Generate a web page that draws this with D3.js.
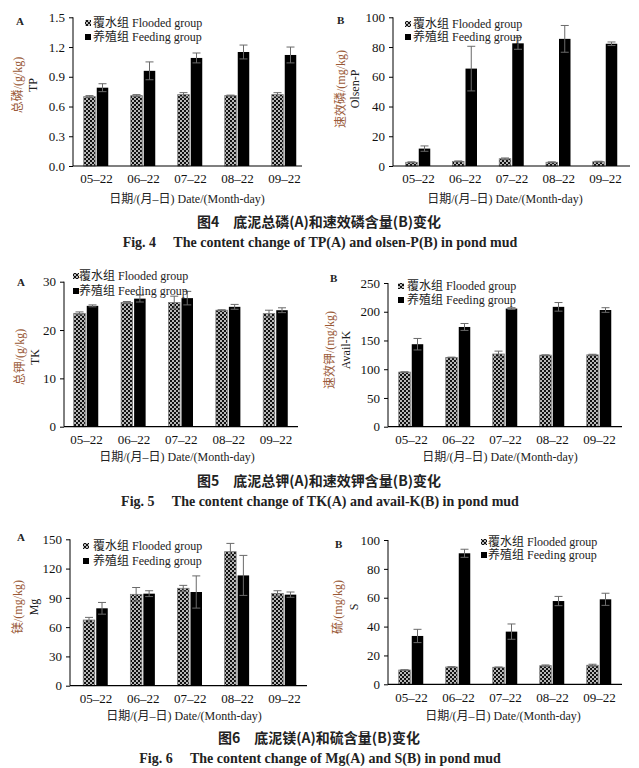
<!DOCTYPE html>
<html><head><meta charset="utf-8">
<script src="https://cdn.jsdelivr.net/npm/d3@7"></script>
<style>body{margin:0;background:#fff}svg{display:block}</style>
</head><body>
<script>
// ---- data ----
const dates = ["05–22","06–22","07–22","08–22","09–22"];
const seriesNames = ["覆水组 Flooded group","养殖组 Feeding group"];

const tpFlooded = [0.70,0.71,0.72,0.71,0.72];
const tpFloodedErr = [0.01,0.01,0.02,0.005,0.02];
const tpFeeding = [0.79,0.96,1.09,1.15,1.12];
const tpFeedingErr = [0.04,0.09,0.05,0.07,0.08];
const tpTicks = [0,0.3,0.6,0.9,1.2,1.5];

const olsenPFlooded = [2.5,3.1,4.9,2.5,2.9];
const olsenPFloodedErr = [0.3,0.3,0.5,0.3,0.3];
const olsenPFeeding = [11.7,65.5,82.5,85.5,82.2];
const olsenPFeedingErr = [1.8,15,4,9,1.2];
const olsenPTicks = [0,20,40,60,80,100];

const tkFlooded = [23.45,25.7,25.7,24.1,23.4];
const tkFloodedErr = [0.3,0.2,1.3,0.1,0.7];
const tkFeeding = [25.0,26.5,26.6,24.8,24.1];
const tkFeedingErr = [0.2,0.7,1.4,0.5,0.5];
const tkTicks = [0,10,20,30];

const availKFlooded = [95,120.5,126.5,124.5,125];
const availKFloodedErr = [0.5,0.5,5,0.5,1];
const availKFeeding = [143.5,173.5,205.5,208.5,203];
const availKFeedingErr = [10,6,1.5,7.5,4];
const availKTicks = [0,50,100,150,200,250];

const mgFlooded = [67.3,93.6,99.8,137.3,94.6];
const mgFloodedErr = [2.7,7,3,8.5,2.7];
const mgFeeding = [79.3,94.3,96,113,93.3];
const mgFeedingErr = [6,3,16.5,20.5,2.7];
const mgTicks = [0,30,60,90,120,150];

const sFlooded = [9.9,12.0,11.8,12.9,13.2];
const sFloodedErr = [0.2,0.2,0.2,0.5,0.7];
const sFeeding = [33.5,90.8,36.5,57.7,58.9];
const sFeedingErr = [4.6,2.8,5.3,3.2,4.2];
const sTicks = [0,20,40,60,80,100];

const xTitle = "日期/(月–日) Date/(Month-day)";
const captions = [
  ["图4　底泥总磷(A)和速效磷含量(B)变化","Fig. 4　 The content change of TP(A) and olsen-P(B) in pond mud"],
  ["图5　底泥总钾(A)和速效钾含量(B)变化","Fig. 5　 The content change of TK(A) and avail-K(B) in pond mud"],
  ["图6　底泥镁(A)和硫含量(B)变化","Fig. 6　 The content change of Mg(A) and S(B) in pond mud"]
];

// ---- layout ----
const SERIF = "'Liberation Serif','Noto Sans CJK SC',serif";
const svg = d3.select("body").append("svg").attr("width",639).attr("height",768);
svg.append("rect").attr("width",639).attr("height",768).attr("fill","#fff");

const defs = svg.append("defs");
const pat = defs.append("pattern").attr("id","chk").attr("patternUnits","userSpaceOnUse")
  .attr("width",4).attr("height",4);
pat.append("rect").attr("width",4).attr("height",4).attr("fill","#111");
pat.append("circle").attr("cx",1).attr("cy",1).attr("r",0.95).attr("fill","#fff");
pat.append("circle").attr("cx",3).attr("cy",3).attr("r",0.95).attr("fill","#fff");

const panels = [
  {label:"A", flooded:tpFlooded, fErr:tpFloodedErr, feeding:tpFeeding, gErr:tpFeedingErr, ticks:tpTicks, fmt:".1f",
   x0:73, x1:302, c0:96, c1:284, yTop:17.3, yBot:166, yl1:"总磷/(g/kg)", yl2:"TP", ylx1:18, ylx2:33, yly:85,
   lab:[16,21], leg:[85,23,37,93], xt:[187,199]},
  {label:"B", flooded:olsenPFlooded, fErr:olsenPFloodedErr, feeding:olsenPFeeding, gErr:olsenPFeedingErr, ticks:olsenPTicks, fmt:"d",
   x0:393, x1:630, c0:418, c1:605, yTop:17.3, yBot:166, yl1:"速效磷/(mg/kg)", yl2:"Olsen-P", ylx1:341, ylx2:355, yly:89,
   lab:[337,20], leg:[405,24,37,413], xt:[505,199]},
  {label:"A", flooded:tkFlooded, fErr:tkFloodedErr, feeding:tkFeeding, gErr:tkFeedingErr, ticks:tkTicks, fmt:"d",
   x0:64, x1:298, c0:86, c1:275.5, yTop:281.7, yBot:426.7, yl1:"总钾/(g/kg)", yl2:"TK", ylx1:20, ylx2:35, yly:357,
   lab:[17,282], leg:[73,276,291,79], xt:[177,457]},
  {label:"B", flooded:availKFlooded, fErr:availKFloodedErr, feeding:availKFeeding, gErr:availKFeedingErr, ticks:availKTicks, fmt:"d",
   x0:388, x1:622, c0:411, c1:599, yTop:283, yBot:426.7, yl1:"速效钾/(mg/kg)", yl2:"Avail-K", ylx1:330, ylx2:346, yly:350,
   lab:[330,278], leg:[398,286,300,407], xt:[500,457]},
  {label:"A", flooded:mgFlooded, fErr:mgFloodedErr, feeding:mgFeeding, gErr:mgFeedingErr, ticks:mgTicks, fmt:"d",
   x0:70, x1:307, c0:95.5, c1:284, yTop:539.3, yBot:685.7, yl1:"镁/(mg/kg)", yl2:"Mg", ylx1:18, ylx2:34, yly:607,
   lab:[17,537], leg:[83,546,561,93], xt:[184,716]},
  {label:"B", flooded:sFlooded, fErr:sFloodedErr, feeding:sFeeding, gErr:sFeedingErr, ticks:sTicks, fmt:"d",
   x0:388, x1:622, c0:411, c1:599, yTop:540, yBot:684.3, yl1:"硫/(mg/kg)", yl2:"S", ylx1:338, ylx2:354, yly:607,
   lab:[335,544], leg:[481,542,555,488], xt:[503,716]}
];

const BW = 11.5, GAP = 1.5;

panels.forEach(p => {
  const g = svg.append("g");
  const x = d3.scalePoint().domain(dates).range([p.c0, p.c1]);
  const tmax = p.ticks[p.ticks.length-1];
  const y = d3.scaleLinear().domain([0, tmax]).range([p.yBot, p.yTop]);

  g.selectAll(".fb").data(p.flooded).join("rect")
    .attr("x",(d,i)=>x(dates[i]) - GAP/2 - BW).attr("width",BW)
    .attr("y",d=>y(d)).attr("height",d=>y(0)-y(d))
    .attr("fill","url(#chk)").attr("stroke","#7a7a7a").attr("stroke-width",0.8);
  g.selectAll(".gb").data(p.feeding).join("rect")
    .attr("x",(d,i)=>x(dates[i]) + GAP/2).attr("width",BW)
    .attr("y",d=>y(d)).attr("height",d=>y(0)-y(d))
    .attr("fill","#000");

  const eb = (vals, errs, off) => {
    vals.forEach((v,i) => {
      const cx = x(dates[i]) + off;
      const e = errs[i];
      g.append("line").attr("x1",cx).attr("x2",cx).attr("y1",y(v+e)).attr("y2",y(v-e))
        .attr("stroke","#6a6a6a").attr("stroke-width",1);
      [v+e, v-e].forEach(t => g.append("line").attr("x1",cx-4).attr("x2",cx+4)
        .attr("y1",y(t)).attr("y2",y(t)).attr("stroke","#6a6a6a").attr("stroke-width",1));
    });
  };
  eb(p.flooded, p.fErr, -GAP/2 - BW/2);
  eb(p.feeding, p.gErr, GAP/2 + BW/2);

  const ya = g.append("g").attr("transform",`translate(${p.x0},0)`)
    .call(d3.axisLeft(y).tickValues(p.ticks).tickFormat(d3.format(p.fmt)).tickSize(4).tickPadding(4));
  ya.select(".domain").attr("stroke","#000").attr("d",`M0,${p.yTop}V${p.yBot}`);
  ya.selectAll("text").attr("font-family",SERIF).attr("font-size",13).attr("fill","#111");
  ya.selectAll(".tick line").attr("stroke","#000");

  const xa = g.append("g").attr("transform",`translate(0,${p.yBot})`)
    .call(d3.axisBottom(x).tickSize(0).tickPadding(8));
  xa.select(".domain").remove();
  xa.selectAll("text").attr("font-family",SERIF).attr("font-size",13).attr("fill","#111");
  g.append("line").attr("x1",p.x0).attr("x2",p.x1).attr("y1",p.yBot).attr("y2",p.yBot)
    .attr("stroke","#000").attr("stroke-width",1.2);

  g.append("text").attr("transform",`translate(${p.ylx1},${p.yly}) rotate(-90)`)
    .attr("text-anchor","middle").attr("dominant-baseline","central")
    .attr("font-family",SERIF).attr("font-size",12).attr("fill","#9a5a38").text(p.yl1);
  g.append("text").attr("transform",`translate(${p.ylx2},${p.yly}) rotate(-90)`)
    .attr("text-anchor","middle").attr("dominant-baseline","central")
    .attr("font-family",SERIF).attr("font-size",12).attr("fill","#222").text(p.yl2);

  g.append("text").attr("x",p.lab[0]).attr("y",p.lab[1]).attr("dominant-baseline","central")
    .attr("font-family",SERIF).attr("font-weight","bold").attr("font-size",11).attr("fill","#222")
    .text(p.label);

  const [lx, r1, r2, tx] = p.leg;
  [[r1,"url(#chk)"],[r2,"#000"]].forEach(([ry,fill],k) => {
    g.append("rect").attr("x",lx).attr("y",ry-3).attr("width",6).attr("height",6).attr("fill",fill);
    g.append("text").attr("x",tx).attr("y",ry).attr("dominant-baseline","central")
      .attr("font-family",SERIF).attr("font-size",12).attr("fill","#222").text(seriesNames[k]);
  });

  g.append("text").attr("x",p.xt[0]).attr("y",p.xt[1]).attr("text-anchor","middle")
    .attr("dominant-baseline","central").attr("font-family",SERIF).attr("font-size",12)
    .attr("fill","#222").text(xTitle);
});

const capY = [[221,242.5],[480,501.5],[736.5,758]];
captions.forEach((c,i) => {
  svg.append("text").attr("x",319).attr("y",capY[i][0]).attr("text-anchor","middle")
    .attr("dominant-baseline","central").attr("font-family","'Noto Sans CJK SC',sans-serif")
    .attr("font-weight","bold").attr("font-size",14).attr("fill","#222").text(c[0]);
  svg.append("text").attr("x",320).attr("y",capY[i][1]).attr("text-anchor","middle")
    .attr("dominant-baseline","central").attr("font-family",SERIF)
    .attr("font-weight","bold").attr("font-size",14).attr("fill","#222").text(c[1]);
});
</script>
</body></html>
